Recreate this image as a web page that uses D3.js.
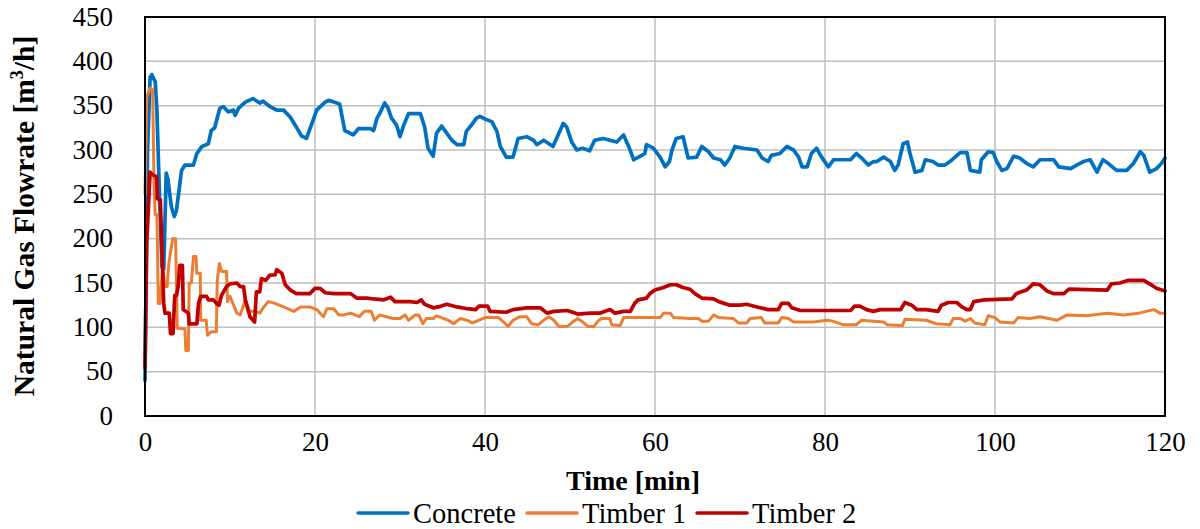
<!DOCTYPE html>
<html>
<head>
<meta charset="utf-8">
<script src="https://cdn.jsdelivr.net/npm/d3@7"></script>
<style>
  html, body { margin: 0; padding: 0; background: #fff; }
  svg { display: block; }
  text { font-family: "Liberation Serif", "DejaVu Serif", serif; fill: #000; }
</style>
</head>
<body>
<svg id="chart" width="1200" height="529"></svg>
<script>
// Flowrate records: [time in min, flowrate in m3/h]
const concrete = [
  [0,40],[0.3,300],[0.6,382],[0.8,385],[1.2,377],[1.4,345],[1.7,250],[2.0,168],[2.2,165],[2.5,274],[2.7,267],
  [3.1,236],[3.45,225],[3.7,232],[4.3,277],[4.7,283],[5.7,283],[6.1,296],[6.7,304],[7.45,307],[7.8,322],[8.2,325],
  [8.8,347],[9.2,349],[9.8,343],[10.4,345],[10.6,339],[11,347],[11.8,354],[12.7,358],[13.5,353],[13.9,355],[14.7,349],
  [15.5,345],[16.3,345],[17.1,337],[17.8,326],[18.4,316],[19.0,313],[20.2,345],[21.2,354],[21.6,356],[22.9,352],
  [23.5,322],[24.5,317],[25.1,324],[26.5,324],[26.9,322],[27.3,336],[27.6,341],[28.2,353],[28.6,347],[29.0,336],
  [29.6,328],[30,315],[30.4,327],[31,341],[32.4,341],[32.9,326],[33.3,302],[33.9,293],[34.3,319],[34.9,327],[35.5,319],
  [36.1,311],[36.7,306],[37.5,306],[37.8,321],[38.4,328],[39,336],[39.4,338],[40.2,334],[40.8,332],[41.4,321],
  [41.8,304],[42.5,292],[43.3,292],[43.9,313],[44.9,315],[45.7,311],[46.1,306],[46.9,311],[48,304],[48.6,317],
  [49.2,330],[49.6,326],[50.2,309],[50.8,300],[51.5,302],[52.3,299],[52.9,311],[53.9,313],[55.5,309],[56.3,317],
  [56.9,304],[57.5,289],[58.8,296],[59.0,306],[59.8,302],[60.6,292],[61.2,281],[61.7,287],[62.0,300],[62.5,313],
  [63.3,315],[63.9,291],[64.9,292],[65.5,304],[66.3,298],[66.9,291],[67.7,289],[68.2,283],[68.8,291],[69.4,304],
  [70.4,302],[72,300],[72.6,291],[73.3,287],[73.7,294],[74.7,296],[75.5,304],[76.3,300],[76.9,292],[77.3,281],
  [77.9,281],[78.4,296],[79.0,302],[79.6,292],[80.4,281],[81,289],[83,289],[83.7,296],[84.3,291],[85.1,283],
  [85.7,287],[86.1,287],[86.9,292],[87.7,287],[88.2,277],[88.6,283],[89.2,307],[89.7,309],[90.0,296],[90.6,275],
  [91.4,277],[91.8,289],[92.7,287],[93.3,283],[94.1,283],[94.7,287],[95.3,292],[95.9,297],[96.7,297],[97.1,277],
  [98.2,275],[98.4,289],[99.2,298],[99.8,297],[100.2,287],[100.8,277],[101.4,279],[102.2,293],[102.9,291],[103.7,285],
  [104.5,281],[105.3,289],[106.9,289],[107.5,281],[108.9,279],[109.6,283],[110.4,287],[111.2,289],[112,275],
  [112.7,289],[113.3,285],[114.3,277],[115.5,277],[116.3,285],[117.1,298],[117.5,294],[118.2,275],[119,279],
  [119.6,285],[120,291]
];

const timber1 = [
  [0,250],[0.2,360],[0.6,370],[0.9,368],[1.06,262],[1.2,227],[1.4,227],[1.57,127],[1.76,127],[2.07,168],[2.35,146],
  [2.6,146],[2.8,172],[3.25,200],[3.6,200],[3.8,99],[4.7,98],[4.8,74],[5.1,74],[5.2,150],[5.45,150],[5.7,180],
  [6.0,180],[6.1,161],[6.5,161],[6.55,108],[7.2,108],[7.35,91],[7.8,95],[8.4,95],[8.5,153],[8.75,172],[9.0,163],
  [9.6,163],[9.7,129],[10,135],[10.8,116],[11.2,114],[11.8,131],[12.3,118],[12.9,118],[13.5,116],[13.9,122],
  [14.5,129],[15.3,127],[16.3,123],[17.5,118],[18.3,123],[19.4,123],[20.2,120],[21,112],[21.4,121],[22.2,121],
  [22.8,114],[23.4,114],[24.2,116],[25.2,112],[25.8,118],[26.6,118],[27,108],[27.6,114],[28.4,112],[29.2,110],
  [30,110],[30.6,114],[31,108],[31.8,114],[32.2,114],[32.7,104],[33.1,110],[33.9,110],[34.3,113],[35.1,110],
  [35.7,108],[36.3,104],[37.1,110],[37.9,108],[38.5,105],[39.3,108],[40,111],[41.6,111],[42.2,106],[42.7,101],
  [43.3,108],[44.1,112],[44.9,112],[45.5,104],[46.3,103],[46.9,108],[47.5,112],[48.1,108],[48.7,101],[49.7,101],
  [50.3,106],[50.9,110],[51.5,106],[52.1,101],[52.8,101],[53.3,107],[53.7,110],[54.7,110],[54.9,103],[55.9,102],
  [56.3,111],[60.6,111],[61,116],[61.8,116],[62.2,111],[64.1,110],[65.1,110],[65.5,107],[66.3,107],[66.9,114],
  [67.5,111],[69.2,110],[69.8,105],[70.8,105],[71.2,110],[72.5,111],[72.9,105],[74.5,105],[74.9,111],[75.7,110],
  [76.3,106],[78.7,106],[80.2,108],[80.9,107],[82.1,103],[83.7,103],[84.3,108],[86.9,106],[87.3,103],[89.1,102],
  [89.4,109],[91.9,108],[93.1,104],[94.7,103],[95.1,110],[95.9,110],[96.5,107],[97.1,110],[97.6,105],[98.8,103],
  [99.2,113],[100,111],[100.6,106],[102.2,105],[102.7,111],[104.1,110],[105.3,112],[107.3,108],[108.5,114],
  [110.8,113],[113.2,116],[115.1,114],[116.9,116],[117.8,118],[118.7,120],[119.4,116],[120,116]
];

const timber2 = [
  [0,54],[0.2,195],[0.6,275],[0.9,272],[1.37,270],[1.45,245],[1.8,244],[2.0,187],[2.2,127],[2.35,116],[2.86,116],
  [3.0,93],[3.3,93],[3.5,136],[3.7,136],[3.9,146],[4.1,170],[4.4,170],[4.5,120],[5.1,116],[5.2,104],[6.1,104],
  [6.3,127],[6.55,135],[7.25,135],[7.45,131],[8.05,131],[8.4,127],[8.7,125],[9,136],[9.6,146],[10,149],[10.8,150],
  [11.2,146],[11.6,146],[11.8,131],[12.35,112],[12.9,106],[13.1,140],[13.5,140],[13.7,155],[14.2,153],[14.7,159],
  [15.3,159],[15.5,165],[16.1,161],[16.5,148],[17.1,142],[17.8,138],[19.4,138],[20,144],[20.6,144],[21.2,139],
  [22.2,138],[24.2,138],[24.9,133],[26.1,133],[26.9,132],[28.1,131],[28.9,134],[29.4,129],[31.2,129],[32,128],
  [32.5,131],[32.9,126],[33.9,122],[34.5,123],[35.5,126],[36.7,123],[37.9,121],[38.9,120],[39.3,124],[40.3,124],
  [40.6,118],[42.5,117],[43.3,120],[44.9,122],[46.5,122],[47.3,116],[48.1,118],[49.7,119],[50.9,115],[52.4,116],
  [53.5,116],[54.7,120],[55.3,116],[56.3,118],[57.1,118],[57.6,127],[58.0,131],[59,133],[59.4,138],[60,142],
  [61,145],[61.8,148],[62.5,148],[63.3,145],[64.1,143],[64.7,138],[65.5,133],[66.9,132],[67.5,129],[68.8,125],
  [70,125],[70.8,126],[72,123],[73.3,120],[74.5,120],[74.9,127],[75.7,127],[76.1,122],[77.1,119],[83,119],
  [83.5,124],[84.1,124],[84.9,120],[85.7,118],[86.5,120],[88.9,120],[89.4,128],[90.2,125],[90.8,120],[91.9,120],
  [93.3,118],[93.7,125],[94.5,128],[95.5,128],[96.1,123],[96.7,120],[97.1,120],[97.5,129],[98.7,131],[102,132],
  [102.5,138],[103.1,140],[103.7,142],[104.5,149],[105.3,148],[106.1,141],[106.9,138],[108.1,138],[108.7,143],
  [113.2,142],[113.7,149],[114.7,150],[115.7,153],[117.5,153],[118.2,149],[119,144],[120,141]
];

const seriesNames = ["Concrete", "Timber 1", "Timber 2"];
const seriesColors = ["#0070C0", "#ED7D31", "#C00000"];
const xTicks = [0, 20, 40, 60, 80, 100, 120];
const yTicks = [0, 50, 100, 150, 200, 250, 300, 350, 400, 450];

const svg = d3.select("#chart");
const plot = { left: 145, right: 1165, top: 17, bottom: 416 };

const x = d3.scaleLinear().domain([0, 120]).range([plot.left, plot.right]);
const y = d3.scaleLinear().domain([0, 450]).range([plot.bottom, plot.top]);

// grid
const grid = svg.append("g");
grid.selectAll("line.gy").data(yTicks).join("line")
  .attr("x1", plot.left).attr("x2", plot.right)
  .attr("y1", d => y(d)).attr("y2", d => y(d))
  .attr("stroke", "#BFBFBF").attr("stroke-width", 1.5);
grid.selectAll("line.gx").data(xTicks).join("line")
  .attr("y1", plot.top).attr("y2", plot.bottom)
  .attr("x1", d => x(d)).attr("x2", d => x(d))
  .attr("stroke", "#BFBFBF").attr("stroke-width", 1.5);

// axes (labels only, border drawn separately)
const yAxis = d3.axisLeft(y).tickValues(yTicks).tickSize(0).tickPadding(32);
const gy = svg.append("g").attr("transform", `translate(${plot.left},0)`).call(yAxis);
gy.select(".domain").remove();
gy.selectAll("text").attr("font-size", 27).attr("font-family", "Liberation Serif").attr("dy", "0.3em");

const xAxis = d3.axisBottom(x).tickValues(xTicks).tickSize(0).tickPadding(16);
const gx = svg.append("g").attr("transform", `translate(0,${plot.bottom})`).call(xAxis);
gx.select(".domain").remove();
gx.selectAll("text").attr("font-size", 27).attr("font-family", "Liberation Serif");

// series
const line = d3.line().x(d => x(d[0])).y(d => y(d[1]));
const allSeries = [concrete, timber1, timber2];
const widths = [3.7, 3.0, 3.7];
svg.append("g").selectAll("path").data(allSeries).join("path")
  .attr("d", line)
  .attr("fill", "none")
  .attr("stroke", (d, i) => seriesColors[i])
  .attr("stroke-width", (d, i) => widths[i])
  .attr("stroke-linejoin", "round")
  .attr("stroke-linecap", "round");

// plot border
svg.append("rect")
  .attr("x", plot.left).attr("y", plot.top)
  .attr("width", plot.right - plot.left).attr("height", plot.bottom - plot.top)
  .attr("fill", "none").attr("stroke", "#000").attr("stroke-width", 2);

// axis titles
svg.append("text")
  .attr("x", 633).attr("y", 490)
  .attr("text-anchor", "middle")
  .attr("font-size", 28).attr("font-weight", "bold")
  .text("Time [min]");

const yt = svg.append("text")
  .attr("transform", "translate(34,216) rotate(-90)")
  .attr("text-anchor", "middle")
  .attr("font-size", 29.5).attr("font-weight", "bold");
yt.append("tspan").text("Natural Gas Flowrate [m");
yt.append("tspan").attr("font-size", 18).attr("dy", -11).text("3");
yt.append("tspan").attr("dy", 11).text("/h]");

// legend
const legendX = [358, 527, 697];
const lg = svg.append("g");
seriesNames.forEach((name, i) => {
  lg.append("line")
    .attr("x1", legendX[i]).attr("x2", legendX[i] + 50)
    .attr("y1", 513).attr("y2", 513)
    .attr("stroke", seriesColors[i]).attr("stroke-width", 3.5)
    .attr("stroke-linecap", "round");
  lg.append("text")
    .attr("x", legendX[i] + 55).attr("y", 523)
    .attr("font-size", 28.5)
    .text(name);
});
</script>
</body>
</html>
